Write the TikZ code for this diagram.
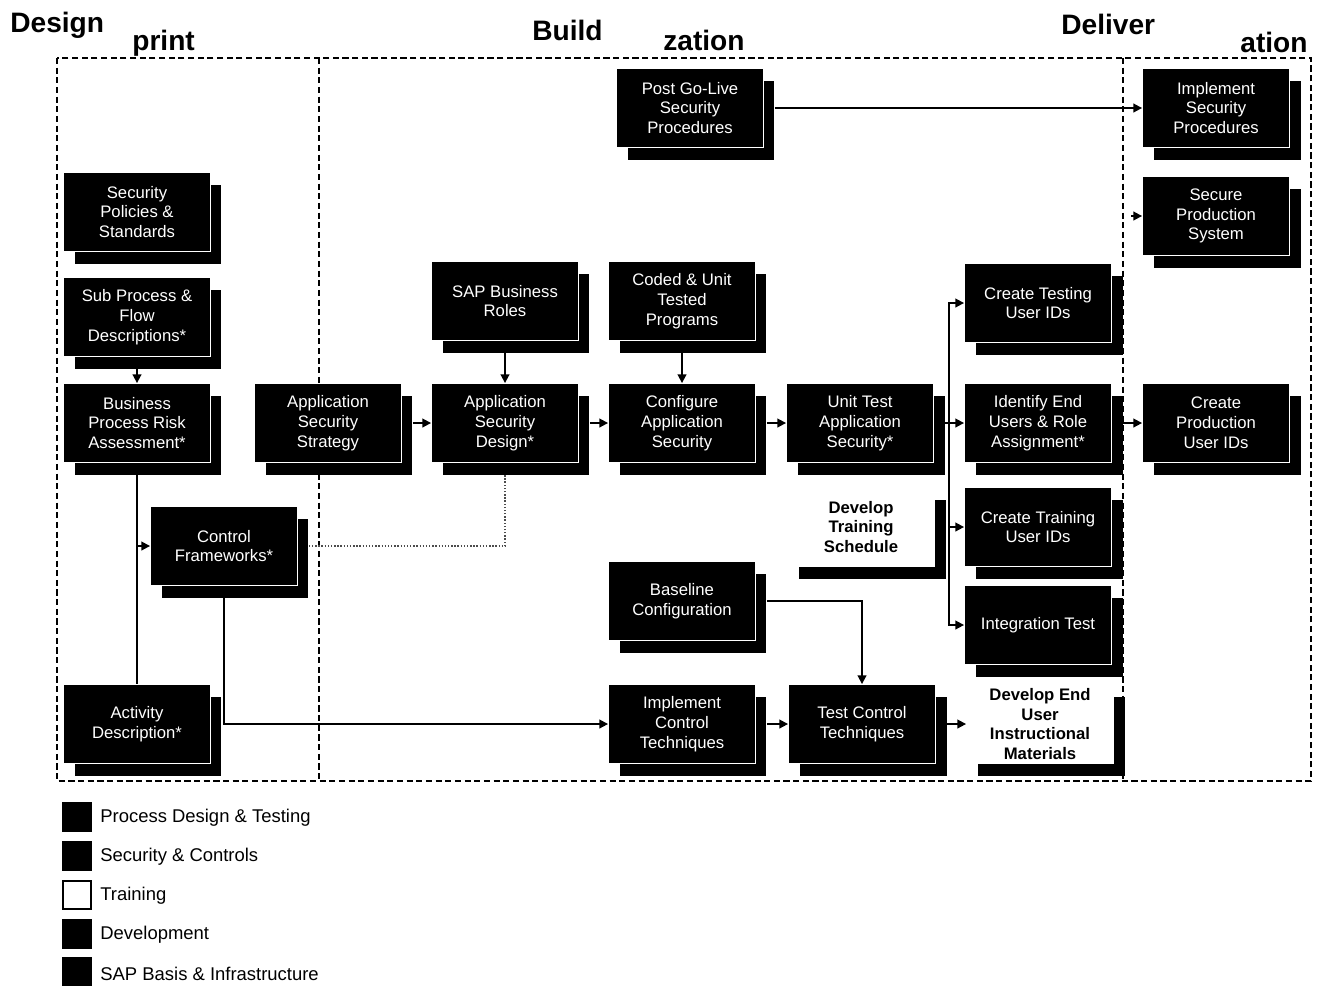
\documentclass[tikz,border=0pt]{standalone}
\usepackage{fontspec}
\setmainfont{Liberation Sans}
\usetikzlibrary{arrows.meta,calc}

\tikzset{
  x=0.02cm, y=-0.02cm,
  front/.style={fill=black, draw=white, line width=0.5pt, minimum width=2.94cm,
    minimum height=1.58cm, inner sep=0pt, text=white, align=center,
    font=\fontsize{9.5}{11.3}\selectfont},
  back/.style={fill=black, draw=none, minimum width=2.94cm, minimum height=1.58cm, inner sep=0pt},
  trainfront/.style={front, fill=white, draw=none, text=black,
    font=\bfseries\fontsize{9.5}{11.3}\selectfont},
  arr/.style={-{Triangle[length=5pt,width=5pt]}, line width=1pt},
  link/.style={line width=1pt},
  hint/.style={densely dotted, line width=0.8pt, black!70},
  frame/.style={dash pattern=on 3.5pt off 2pt, line width=1.2pt},
  phase/.style={font=\bfseries\fontsize{16}{18}\selectfont, anchor=base west, inner sep=0pt},
  key/.style={minimum size=0.56cm, inner sep=0pt, draw=black, line width=0.8pt, fill=black},
  keytext/.style={font=\fontsize{10.5}{12}\selectfont, anchor=west, inner sep=0pt}
}

% a deliverable: black shadow box behind a front box
\newcommand\stackbox[4][front]{%
  \node[back] (#2-b) at ($(#3)+(11,12)$) {};
  \node[#1] (#2) at (#3) {#4};
}

\begin{document}
\begin{tikzpicture}
\useasboundingbox (0,0) rectangle (1317,985);

% phase frame
\draw[frame] (57,58) rectangle (1311,781);
\draw[frame] (319,58) -- (319,781);
\draw[frame] (1123,58) -- (1123,781);

% phase titles
\node[phase] (tdesign) at (10,32) {Design};
\node[phase] (tblue) at (132,50) {print};
\node[phase] (tbuild) at (532,40) {Build};
\node[phase] (treal) at (663,50) {zation};
\node[phase] (tdeliver) at (1061,34) {Deliver};
\node[phase] (tfinal) at (1240,52) {ation};

% deliverables
\stackbox{secpol}{137,212}{Security\\Policies \&\\Standards}
\stackbox{subproc}{137,317}{Sub Process \&\\Flow\\Descriptions*}
\stackbox{bprisk}{137,423}{Business\\Process Risk\\Assessment*}
\stackbox{ctrlfw}{224,546}{Control\\Frameworks*}
\stackbox{activity}{137,724}{Activity\\Description*}
\stackbox{appstrat}{328,423}{Application\\Security\\Strategy}
\stackbox{saproles}{505,301}{SAP Business\\Roles}
\stackbox{appdesign}{505,423}{Application\\Security\\Design*}
\stackbox{coded}{682,301}{Coded \& Unit\\Tested\\Programs}
\stackbox{configure}{682,423}{Configure\\Application\\Security}
\stackbox{unittest}{860,423}{Unit Test\\Application\\Security*}
\stackbox{postgolive}{690,108}{Post Go-Live\\Security\\Procedures}
\stackbox{testids}{1038,303}{Create Testing\\User IDs}
\stackbox{identify}{1038,423}{Identify End\\Users \& Role\\Assignment*}
\stackbox{trainids}{1038,527}{Create Training\\User IDs}
\stackbox{integ}{1038,625}{Integration Test}
\stackbox{prodids}{1216,423}{Create\\Production\\User IDs}
\stackbox{implsec}{1216,108}{Implement\\Security\\Procedures}
\stackbox{secprod}{1216,216}{Secure\\Production\\System}
\stackbox{baseline}{682,601}{Baseline\\Configuration}
\stackbox{implctrl}{682,724}{Implement\\Control\\Techniques}
\stackbox{testctrl}{862,724}{Test Control\\Techniques}
\stackbox[trainfront]{trainsched}{861,527}{Develop\\Training\\Schedule}
\stackbox[trainfront]{enduser}{1040,724}{Develop End\\User\\Instructional\\Materials}

% connectors
\draw[arr] (subproc.center |- subproc-b.south) -- (bprisk.north);
\draw[link] (bprisk.center |- bprisk-b.south) -- (activity.north);
\draw[arr] (bprisk.center |- ctrlfw.west) -- (ctrlfw.west);
\draw[arr] (ctrlfw.center |- ctrlfw-b.south) |- (implctrl.west);
\draw[hint] (ctrlfw-b.east |- ctrlfw.center) -| (appdesign.center |- appdesign-b.south);
\draw[arr] (appstrat-b.east |- appstrat.center) -- (appdesign.west);
\draw[arr] (saproles.center |- saproles-b.south) -- (appdesign.north);
\draw[arr] (appdesign-b.east |- appdesign.center) -- (configure.west);
\draw[arr] (coded.center |- coded-b.south) -- (configure.north);
\draw[arr] (configure-b.east |- configure.center) -- (unittest.west);
\draw[arr] (unittest-b.east |- unittest.center) -- (identify.west);
\draw[arr] (unittest-b.east |- unittest.center) -- ++(4.5,0) |- (testids.west);
\draw[arr] (unittest-b.east |- unittest.center) -- ++(4.5,0) |- (trainids.west);
\draw[arr] (unittest-b.east |- unittest.center) -- ++(4.5,0) |- (integ.west);
\draw[arr] (identify-b.east |- identify.center) -- (prodids.west);
\draw[arr] (postgolive-b.east |- postgolive.center) -- (implsec.west);
\coordinate (spin) at (1131,216);
\draw[arr] (spin) -- (secprod.west);
\draw[arr] (baseline-b.east |- baseline.center) -| (testctrl.north);
\draw[arr] (implctrl-b.east |- implctrl.center) -- (testctrl.west);
\draw[arr] (testctrl-b.east |- testctrl.center) -- (enduser.west);

% key
\node[key] (k1) at (77,817) {};
\node[keytext] (k1t) at (100,818) {Process Design \& Testing};
\node[key] (k2) at (77,856) {};
\node[keytext] (k2t) at (100,857) {Security \& Controls};
\node[key, fill=white] (k3) at (77,895) {};
\node[keytext] (k3t) at (100,896) {Training};
\node[key] (k4) at (77,934) {};
\node[keytext] (k4t) at (100,935) {Development};
\node[key] (k5) at (77,972) {};
\node[keytext] (k5t) at (100,974) {SAP Basis \& Infrastructure};
\end{tikzpicture}
\end{document}
